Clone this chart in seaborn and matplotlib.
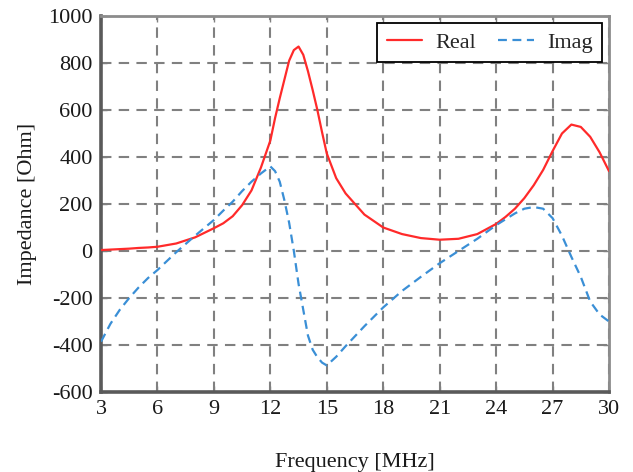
import matplotlib
matplotlib.use("Agg")
import matplotlib.pyplot as plt
import seaborn as sns
import pandas as pd

freq = [3, 3.5, 4, 4.5, 5, 5.5, 6, 7, 8, 9, 9.5, 10, 10.5, 11, 11.5, 12, 12.25, 12.5,
        12.75, 13, 13.25, 13.5, 13.75, 14, 14.25, 14.5, 14.75, 15, 15.5, 16, 17, 18, 19,
        20, 21, 22, 23, 24, 24.5, 25, 25.5, 26, 26.5, 27, 27.5, 28, 28.5, 29, 29.5, 30]
real = [4, 6, 8, 10, 13, 15, 18, 32, 58, 97, 118, 148, 195, 258, 355, 470, 565, 650,
        730, 810, 855, 870, 835, 765, 685, 600, 505, 415, 310, 245, 155, 100, 72,
        55, 48, 52, 72, 115, 145, 180, 225, 280, 345, 425, 500, 538, 528, 486, 420, 340]
imag = [-386, -310, -250, -200, -155, -115, -81, -5, 65, 132, 172, 210, 255, 295, 330, 360, 340, 295,
        215, 120, 0, -140, -250, -360, -420, -452, -475, -487, -450, -405, -320, -240, -170,
        -110, -52, 0, 52, 110, 135, 160, 180, 187, 180, 140, 65, -25, -110, -215, -270, -300]

xticks = [3, 6, 9, 12, 15, 18, 21, 24, 27, 30]
yticks = [-600, -400, -200, 0, 200, 400, 600, 800, 1000]

sns.set_style("white")
plt.rcParams['font.family'] = ['Liberation Serif', 'DejaVu Serif']

df = pd.DataFrame({"freq": freq, "Real": real, "Imag": imag})

fig = plt.figure(figsize=(6.33, 4.72), dpi=100)
ax = fig.add_axes([101 / 633, 1 - 392 / 472, (609 - 101) / 633, (392 - 16) / 472])

ax.grid(True, color="#808080", linestyle=(0, (5, 3.5)), linewidth=1.5)
ax.set_axisbelow(True)

sns.lineplot(data=df, x="freq", y="Real", ax=ax, color="#ff2a2a", linewidth=1.6,
             label="Real", zorder=3)
sns.lineplot(data=df, x="freq", y="Imag", ax=ax, color="#3a8fd6", linewidth=1.6,
             linestyle=(0, (4, 2.5)), label="Imag", zorder=3)

ax.set_xlim(3, 30)
ax.set_ylim(-600, 1000)
ax.set_xticks(xticks)
ax.set_yticks(yticks)
ax.set_xticklabels([str(t) for t in xticks])
ax.set_yticklabels([str(t) for t in yticks])
ax.tick_params(axis="both", which="both", direction="in", length=4, width=1,
               color="#808080", labelsize=16, labelcolor="#1a1a1a", pad=6,
               top=True, right=True, bottom=True, left=True)

ax.set_xlabel("Frequency [MHz]", fontsize=16, color="#1a1a1a", labelpad=24)
ax.set_ylabel("Impedance [Ohm]", fontsize=16, color="#1a1a1a", labelpad=8)

for side in ["left", "bottom"]:
    ax.spines[side].set_color("#5a5a5a")
    ax.spines[side].set_linewidth(2.6)
for side in ["top", "right"]:
    ax.spines[side].set_color("#8c8c8c")
    ax.spines[side].set_linewidth(2.0)

leg = ax.legend(loc="upper right", ncol=2, fontsize=16, frameon=True, fancybox=False,
                edgecolor="black", framealpha=1, handlelength=1.6, columnspacing=1.0,
                borderpad=0.42, handletextpad=0.6, borderaxespad=0.3)
leg.get_frame().set_linewidth(1.3)

fig.savefig("out.png", dpi=100)
